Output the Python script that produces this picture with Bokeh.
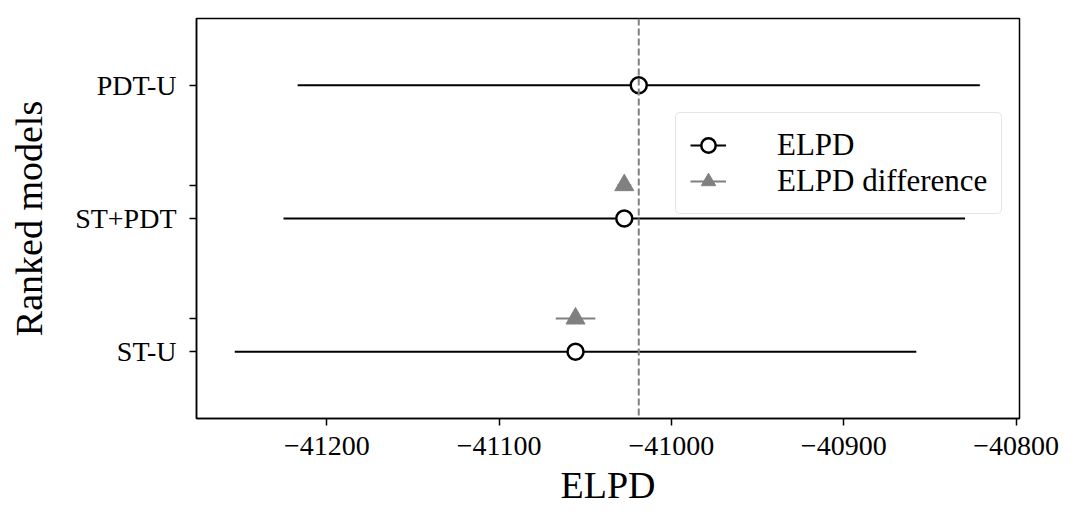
from bokeh.plotting import figure
from bokeh.models import Range1d, FixedTicker, Span, Legend, LegendItem, ColumnDataSource
from bokeh.embed import file_html
from bokeh.resources import INLINE

# ---- data ----
models = ["ST-U", "ST+PDT", "PDT-U"]
model_pos = [0, 1, 2]
elpd = [-41055.7, -41027.4, -41019.0]
elpd_se = [197.8, 197.8, 198.0]
diff_pos = [0.25, 1.25]
diff_elpd = [-41055.7, -41027.4]
diff_se = [11.5, 4.0]
best_elpd = -41019.0
x_ticks = [-41200, -41100, -41000, -40900, -40800]
x_tick_labels = ["\u221241200", "\u221241100", "\u221241000", "\u221240900", "\u221240800"]

FONT = "Liberation Serif"

src = ColumnDataSource(dict(
    y=model_pos, x=elpd,
    lo=[e - s for e, s in zip(elpd, elpd_se)],
    hi=[e + s for e, s in zip(elpd, elpd_se)],
))
dsrc = ColumnDataSource(dict(
    y=diff_pos, x=diff_elpd,
    lo=[e - s for e, s in zip(diff_elpd, diff_se)],
    hi=[e + s for e, s in zip(diff_elpd, diff_se)],
))

p = figure(width=1062, height=508, output_backend="svg", toolbar_location=None,
           x_range=Range1d(-41275.7, -40798.0), y_range=Range1d(-0.5, 2.5),
           min_border_left=196, min_border_right=43, min_border_top=18, min_border_bottom=90)

p.xgrid.visible = False
p.ygrid.visible = False
p.outline_line_color = "black"
p.outline_line_width = 1.5
p.background_fill_color = "white"
p.border_fill_color = "white"

vline = Span(location=best_elpd, dimension="height", line_color="#808080",
             line_width=2, line_dash="7 3")
p.add_layout(vline)

seg = p.segment(x0="lo", y0="y", x1="hi", y1="y", source=src, line_color="black", line_width=2)
circ = p.scatter(x="x", y="y", source=src, marker="circle", size=16,
                 fill_color="white", line_color="black", line_width=2.5)
dseg = p.segment(x0="lo", y0="y", x1="hi", y1="y", source=dsrc, line_color="#808080", line_width=2)
tri = p.scatter(x="x", y="y", source=dsrc, marker="triangle", size=19,
                fill_color="#808080", line_color="#808080")

# axes
xa = p.xaxis[0]
xa.ticker = FixedTicker(ticks=x_ticks, minor_ticks=[])
xa.major_label_overrides = {t: l for t, l in zip(x_ticks, x_tick_labels)}
xa.axis_label = "ELPD"

ya = p.yaxis[0]
ya.ticker = FixedTicker(ticks=model_pos, minor_ticks=diff_pos)
ya.major_label_overrides = {t: l for t, l in zip(model_pos, models)}
ya.axis_label = "Ranked models"

for ax in (xa, ya):
    ax.axis_line_color = "black"
    ax.axis_line_width = 1.5
    ax.major_tick_line_color = "black"
    ax.major_tick_line_width = 1.5
    ax.major_tick_out = 7
    ax.major_tick_in = 0
    ax.minor_tick_line_color = "black"
    ax.minor_tick_line_width = 1.5
    ax.minor_tick_out = 7
    ax.minor_tick_in = 0
    ax.major_label_text_font = FONT
    ax.major_label_text_font_size = "28px"
    ax.major_label_text_color = "black"
    ax.axis_label_text_font = FONT
    ax.axis_label_text_font_size = "38px"
    ax.axis_label_text_font_style = "normal"
    ax.axis_label_text_color = "black"

xa.major_label_standoff = 11
ya.major_label_standoff = 13
xa.axis_label_standoff = 6
ya.axis_label_standoff = 22

legend = Legend(items=[
    LegendItem(label="ELPD", renderers=[seg, circ], index=0),
    LegendItem(label="ELPD difference", renderers=[dseg, tri], index=0),
], location=(479, 204))
legend.label_text_font = FONT
legend.label_text_font_size = "31px"
legend.label_text_color = "black"
legend.label_standoff = 51
legend.glyph_width = 36
legend.glyph_height = 36
legend.spacing = 0
legend.padding = 14
legend.border_line_color = "#cccccc"
legend.border_line_width = 1.5
legend.background_fill_alpha = 0.85
if "border_radius" in Legend.properties():
    legend.border_radius = 5
p.add_layout(legend, "center")

open("out.html", "w").write(file_html(p, INLINE))
